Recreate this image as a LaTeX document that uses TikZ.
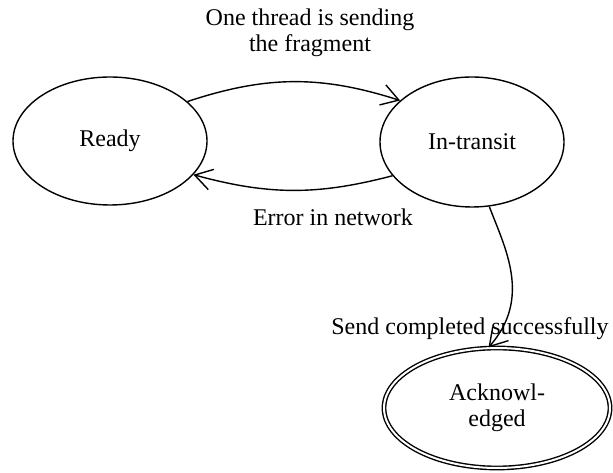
\documentclass[tikz,border=0pt]{standalone}
\usepackage{fontspec}
\setmainfont{Liberation Serif}
\usetikzlibrary{shapes.geometric,arrows.meta}

\begin{document}
\begin{tikzpicture}[x=1pt,y=1pt,
    state/.style={ellipse,draw,line width=1.4pt,inner sep=0pt},
    final/.style={state,double,double distance=2pt},
    trans/.style={line width=1.4pt,-{Straight Barb[length=17pt,width=21pt,line width=1.4pt]}},
    every node/.style={font=\fontsize{24}{26}\selectfont}]
  \useasboundingbox (0,0) rectangle (613,473);
  % states
  \node[state,minimum width=194pt,minimum height=128pt] (ready) at (110,332) {Ready};
  \node[state,minimum width=184pt,minimum height=130pt] (transit) at (472,331) {In-transit};
  \node[final,minimum width=226pt,minimum height=120pt,align=center] (acked) at (497,65) {Acknowl-\\edged};
  % labels
  \node[align=center] (sendlbl) at (310,440) {One thread is sending\\the fragment};
  \node (errlbl) at (333,256) {Error in network};
  \node (donelbl) at (470,144) {Send completed successfully};
  % transitions
  \draw[trans] (ready.27) to[bend left=18] (transit.150);
  \draw[trans] (transit.203) to[bend left=15] (ready.-22);
  \draw[trans] (transit.-75) .. controls (505,225) and (532,175) .. (acked.98);
\end{tikzpicture}
\end{document}
